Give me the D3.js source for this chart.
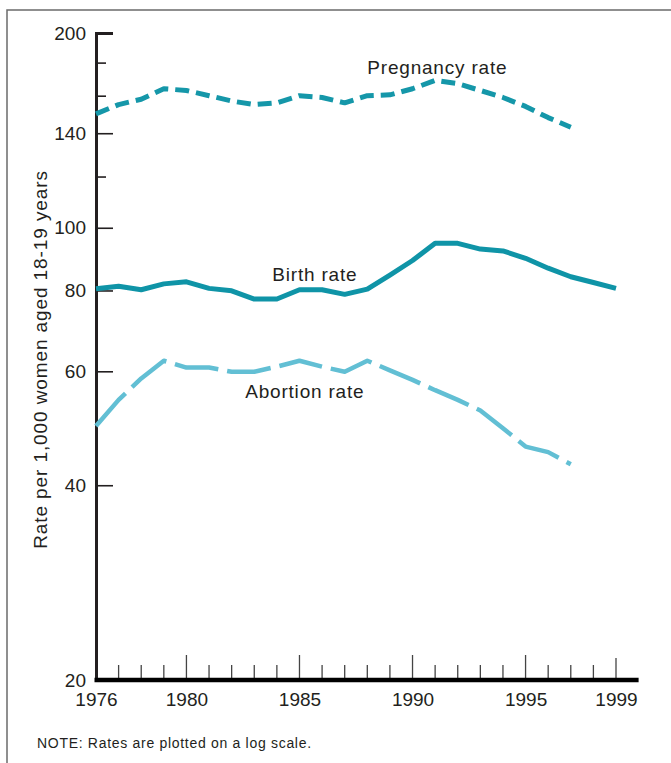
<!DOCTYPE html>
<html>
<head>
<meta charset="utf-8">
<script src="https://cdn.jsdelivr.net/npm/d3@7"></script>
<style>
  body { margin: 0; background: #fff; }
  svg { display: block; font-family: "Liberation Sans", Arial, Helvetica, sans-serif; }
</style>
</head>
<body>
<script>
// data (rates per 1,000 women aged 18-19)
let years = d3.range(1976, 2000);
let pregnancyRate = [150, 155, 158, 164, 163, 160, 157, 155, 156, 160, 159, 156, 160, 160.5, 164, 169, 167, 163, 159, 154, 148, 143];
let birthRate = [80.5, 81.2, 80.2, 81.9, 82.5, 80.6, 79.9, 77.6, 77.6, 80.2, 80.2, 78.9, 80.4, 84.5, 89, 94.6, 94.6, 92.7, 92.1, 89.7, 86.6, 84, 82.3, 80.6];
let abortionRate = [49.4, 54.2, 58.5, 62.3, 60.8, 60.8, 59.9, 59.9, 61, 62.3, 61, 59.9, 62.3, 60.2, 58.2, 56.1, 54.2, 52.2, 49, 45.9, 45, 43.1];

let yLabelled = [20, 40, 60, 80, 100, 140, 200];
let yMinor = [120, 160, 180];
let xLabelled = [1976, 1980, 1985, 1990, 1995, 1999];
let xMajor = [1980, 1985, 1990, 1995];

let width = 671, height = 763;
let ink = "#231f20";

let svg = d3.select("body").append("svg").attr("width", width).attr("height", height);

// frame
svg.append("rect")
    .attr("x", 7).attr("y", 10)
    .attr("width", width + 10).attr("height", height + 10)
    .attr("fill", "none").attr("stroke", "#6b6b6b").attr("stroke-width", 1.5);

let x = d3.scaleLinear().domain([1976, 1999]).range([96, 616]);
let y = d3.scaleLog().domain([20, 200]).range([680, 33]);

/* y axis: long ticks with labels, short ticks without */
let yAxisG = svg.append("g").attr("transform", `translate(${x(1976)},0)`);
yAxisG.call(d3.axisLeft(y).tickValues(yLabelled).tickSize(-17).tickPadding(10).tickFormat(d3.format("d")));
yAxisG.append("g").call(d3.axisLeft(y).tickValues(yMinor).tickSize(-10).tickFormat(""));
yAxisG.selectAll(".domain").attr("stroke", ink).attr("stroke-width", 3);
yAxisG.selectAll(".tick line").attr("stroke", ink).attr("stroke-width", 1.6);
yAxisG.selectAll(".tick text").attr("fill", ink).attr("font-size", 19).attr("font-family", null);
yAxisG.selectAll("g > g .domain").remove();

/* x axis: labels only, ticks drawn below */
let xAxisG = svg.append("g").attr("transform", `translate(0,${y(20)})`);
xAxisG.call(d3.axisBottom(x).tickValues(xLabelled).tickSize(0).tickPadding(13).tickFormat(d3.format("d")));
xAxisG.select(".domain").remove();
xAxisG.selectAll(".tick text").attr("fill", ink).attr("font-size", 19).attr("font-family", null);

let tickLen = d => d === 1976 ? 0 : (xMajor.includes(d) ? 25 : (d === 1999 ? 22 : 15));
svg.append("g").selectAll("line")
    .data(years.filter(d => d > 1976))
    .enter().append("line")
        .attr("x1", d => x(d)).attr("x2", d => x(d))
        .attr("y1", y(20)).attr("y2", d => y(20) - tickLen(d))
        .attr("stroke", "#444").attr("stroke-width", 1.3);

svg.append("line")
    .attr("x1", x(1976) - 1.5).attr("x2", x(2000))
    .attr("y1", y(20)).attr("y2", y(20))
    .attr("stroke", "#000").attr("stroke-width", 4.5);

// y title
svg.append("text")
    .attr("transform", `translate(47,${(y(200) + y(20)) / 2 + 3}) rotate(-90)`)
    .attr("text-anchor", "middle")
    .attr("font-size", 19).attr("letter-spacing", 0.9)
    .attr("fill", ink)
    .text("Rate per 1,000 women aged 18-19 years");

// lines
let line = d3.line()
    .x((d, i) => x(years[i]))
    .y(d => y(d));

let series = [
    {name: "Pregnancy rate", values: pregnancyRate, color: "#1597a9", width: 5, dash: "14,7", lx: 1988, ly: 173},
    {name: "Birth rate", values: birthRate, color: "#0f94a7", width: 5, dash: null, lx: 1983.8, ly: 82.7},
    {name: "Abortion rate", values: abortionRate, color: "#62bfd4", width: 4.5, dash: "44,9", lx: 1982.6, ly: 54.6}
];

series.forEach(s => {
    svg.append("path")
        .attr("d", line(s.values))
        .attr("fill", "none")
        .attr("stroke", s.color)
        .attr("stroke-width", s.width)
        .attr("stroke-dasharray", s.dash)
        .attr("stroke-linejoin", "round");

    svg.append("text")
        .attr("x", x(s.lx)).attr("y", y(s.ly))
        .attr("font-size", 19).attr("letter-spacing", 0.8)
        .attr("fill", ink)
        .text(s.name);
});

// note
svg.append("text")
    .attr("x", 37).attr("y", 748)
    .attr("font-size", 14).attr("letter-spacing", 0.7)
    .attr("fill", ink)
    .text("NOTE: Rates are plotted on a log scale.");
</script>
</body>
</html>
